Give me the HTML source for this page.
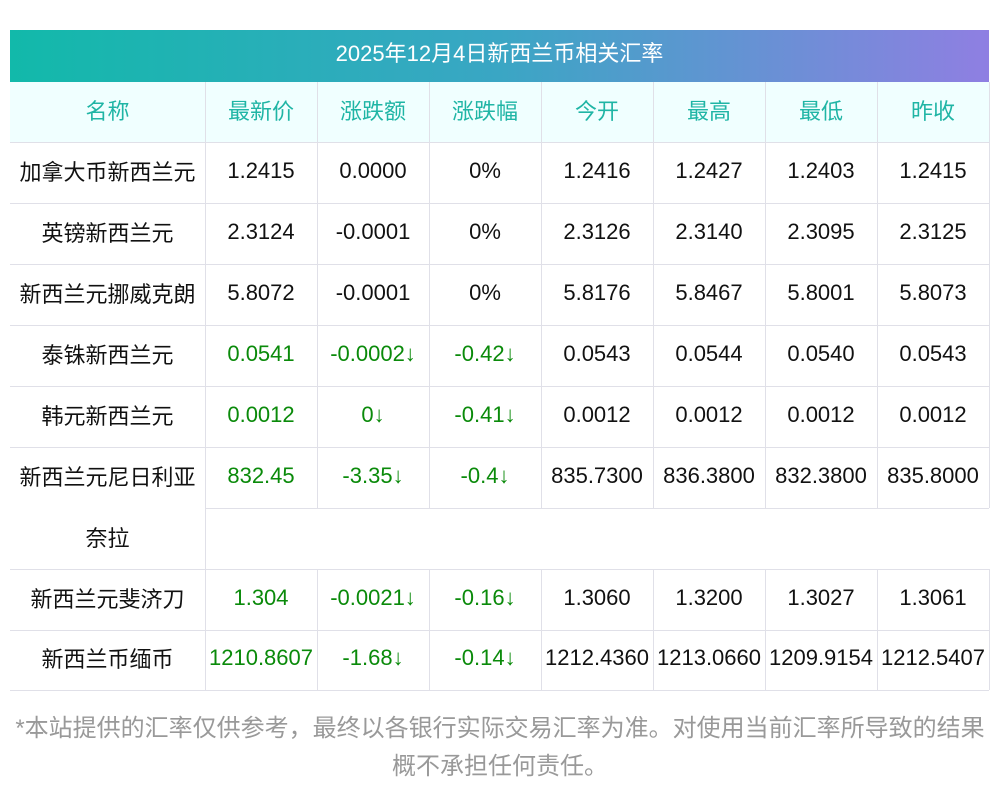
<!DOCTYPE html><html><head><meta charset="utf-8"><style>
body{margin:0;width:1000px;height:793px;background:#fff;font-family:"Liberation Sans","Noto Sans CJK SC",sans-serif;position:relative;overflow:hidden}
.t{position:absolute;left:10px;top:30px;width:979px;height:52px;background:linear-gradient(90deg,#12b9aa,#3aa6c4 50%,#8f7fe2);color:#fff;font-size:22px;text-align:center;line-height:48px}
.hr{position:absolute;left:10px;top:82px;width:979px;height:60px;background:#f0ffff}
.c{position:absolute;display:flex;align-items:center;justify-content:center;font-size:22px;color:#111;white-space:nowrap;padding-bottom:4px;box-sizing:border-box}
.h{color:#1fb5a5}.g{color:#0a8a0a}
.hl{position:absolute;height:1px;background:#e0e0e8}
.vl{position:absolute;width:1px;background:#e0e0e8}
.f{position:absolute;left:0;width:1000px;text-align:center;font-size:24px;color:#999}
</style></head><body>
<div class="t">2025年12月4日新西兰币相关汇率</div>
<div class="hr"></div>
<div id="g"></div>
<div class="f" style="top:708px">*本站提供的汇率仅供参考，最终以各银行实际交易汇率为准。对使用当前汇率所导致的结果</div>
<div class="f" style="top:746px">概不承担任何责任。</div>
<script>
const X=[10,205,317,429,541,653,765,877,989];
const rows=[
["名称","最新价","涨跌额","涨跌幅","今开","最高","最低","昨收"],
["加拿大币新西兰元","1.2415","0.0000","0%","1.2416","1.2427","1.2403","1.2415"],
["英镑新西兰元","2.3124","-0.0001","0%","2.3126","2.3140","2.3095","2.3125"],
["新西兰元挪威克朗","5.8072","-0.0001","0%","5.8176","5.8467","5.8001","5.8073"],
["泰铢新西兰元","0.0541","-0.0002↓","-0.42↓","0.0543","0.0544","0.0540","0.0543"],
["韩元新西兰元","0.0012","0↓","-0.41↓","0.0012","0.0012","0.0012","0.0012"],
["新西兰元尼日利亚","832.45","-3.35↓","-0.4↓","835.7300","836.3800","832.3800","835.8000"],
["奈拉"],
["新西兰元斐济刀","1.304","-0.0021↓","-0.16↓","1.3060","1.3200","1.3027","1.3061"],
["新西兰币缅币","1210.8607","-1.68↓","-0.14↓","1212.4360","1213.0660","1209.9154","1212.5407"]];
const Y=[82,142,203,264,325,386,447,508,569,630,690];
let h="";
rows.forEach((r,i)=>{r.forEach((v,j)=>{let cls=i==0?"h":((i>=4&&j>=1&&j<=3)||(i>=6&&j>=1&&j<=3)?"g":"");
h+=`<div class="c ${cls}" style="left:${X[j]}px;top:${Y[i]}px;width:${X[j+1]-X[j]}px;height:${Y[i+1]-Y[i]}px">${v}</div>`;});});
for(let i=1;i<Y.length;i++){let l=(i==7)?205:10;h+=`<div class="hl" style="left:${l}px;top:${Y[i]}px;width:${989-l}px"></div>`;}
for(let j=1;j<X.length;j++){
 if(j==1){h+=`<div class="vl" style="left:${X[j]}px;top:82px;height:608px"></div>`;}
 else{h+=`<div class="vl" style="left:${X[j]}px;top:82px;height:426px"></div><div class="vl" style="left:${X[j]}px;top:569px;height:121px"></div>`;}
}
document.getElementById("g").innerHTML=h;
</script>
</body></html>
